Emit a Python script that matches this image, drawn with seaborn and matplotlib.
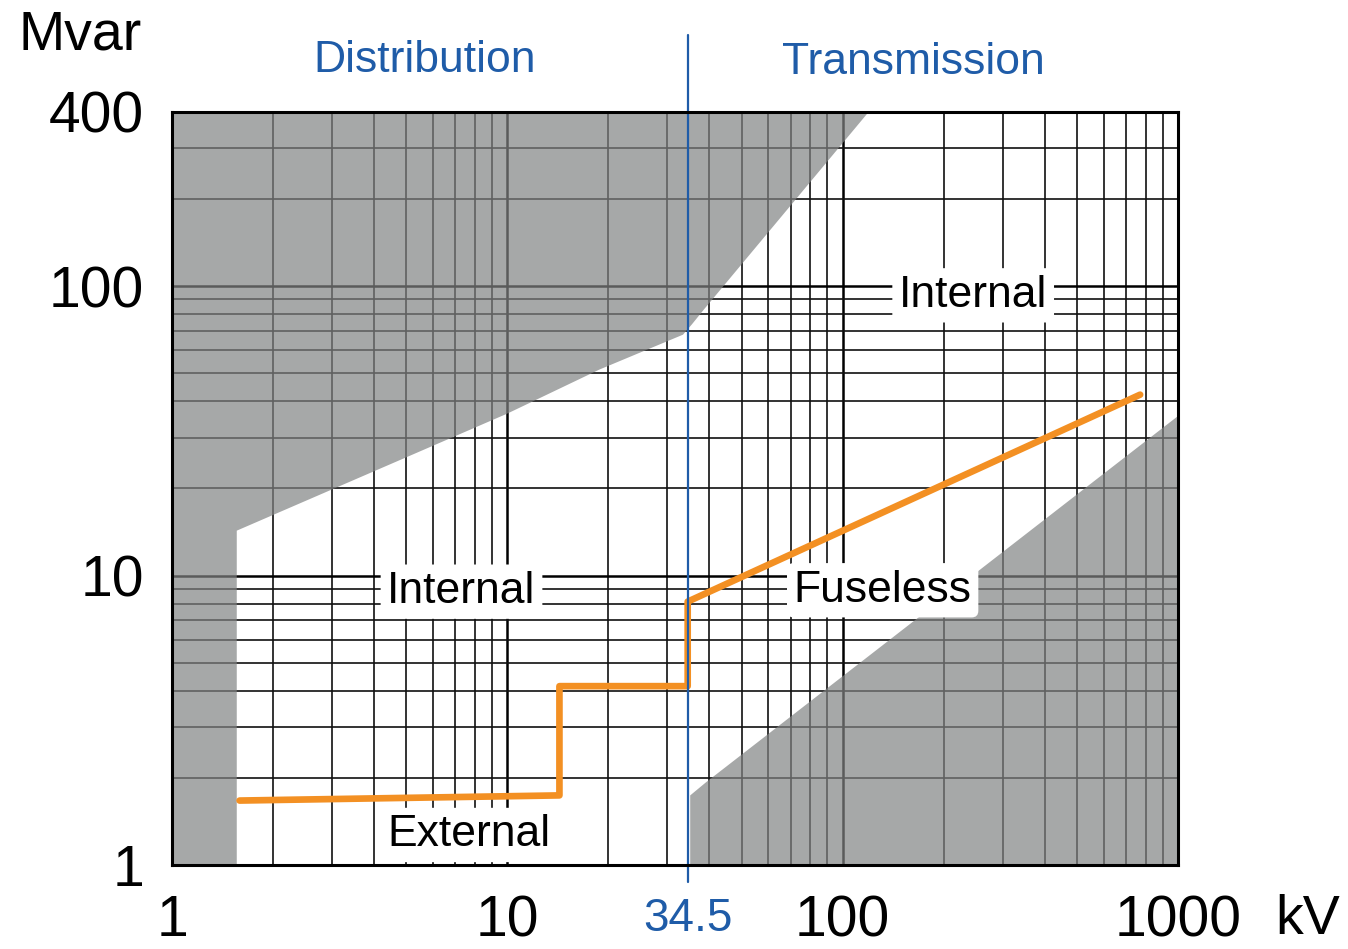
import matplotlib
matplotlib.use("Agg")
import matplotlib.pyplot as plt
import matplotlib.transforms as mtransforms
from matplotlib.ticker import LogLocator, NullFormatter, FixedLocator
import numpy as np
import seaborn as sns

# boundary of the upper-left grey zone (kV, Mvar)
upper_kv = [1, 1.56, 1.56, 10, 18.8, 33.4, 35.5, 38.6, 119.5, 1]
upper_mvar = [1, 1, 14.3, 36.3, 51.5, 68, 73.8, 83.2, 400, 400]

# boundary of the lower-right grey zone
lower_kv = [35.1, 35.1, 39.1, 1000, 1000]
lower_mvar = [1, 1.74, 1.93, 35.6, 1]

# orange limit line
limit_kv = [1.59, 14.3, 14.3, 34.5, 34.5, 771]
limit_mvar = [1.67, 1.74, 4.15, 4.15, 8.13, 42.2]

x_ticks = [1, 10, 100, 1000]
y_ticks = [1, 10, 100, 400]
split_kv = 34.5

region_labels = ["Internal", "Internal", "Fuseless", "External"]
region_kv = [245, 7.3, 131.6, 7.7]
region_mvar = [93, 8.8, 8.9, 1.27]

sns.set_theme(style="white")
plt.rcParams['font.family'] = ['Liberation Sans', 'DejaVu Sans']
plt.rcParams['text.color'] = 'black'

blue = '#1f5ca8'
fig = plt.figure(figsize=(13.48, 9.49), dpi=100)
ax = fig.add_axes([0.1276, 0.0885, 0.7463, 0.7935])

ax.set_xscale('log')
ax.set_yscale('log')
ax.set_xlim(1, 1000)
ax.set_ylim(1, 400)

ax.xaxis.set_major_locator(FixedLocator(x_ticks))
ax.yaxis.set_major_locator(FixedLocator(y_ticks))
ax.xaxis.set_minor_locator(LogLocator(base=10, subs=np.arange(2, 10)))
ax.yaxis.set_minor_locator(LogLocator(base=10, subs=np.arange(2, 10)))
ax.xaxis.set_minor_formatter(NullFormatter())
ax.yaxis.set_minor_formatter(NullFormatter())
ax.set_xticklabels([str(v) for v in x_ticks])
ax.set_yticklabels([str(v) for v in y_ticks])
ax.tick_params(which='both', length=0)
ax.tick_params(axis='x', labelsize=41, pad=21, labelcolor='black')
ax.tick_params(axis='y', labelsize=41, pad=20, labelcolor='black')

ax.grid(which='major', color='black', linewidth=1.8, zorder=1)
ax.grid(which='minor', color='#111111', linewidth=1.2, zorder=1)
ax.set_axisbelow(True)

ax.fill(upper_kv, upper_mvar, color='#818383', alpha=0.7, lw=0, zorder=2)
ax.fill(lower_kv, lower_mvar, color='#818383', alpha=0.7, lw=0, zorder=2)

sns.lineplot(x=limit_kv, y=limit_mvar, ax=ax, color='#f39023', linewidth=4.8,
             sort=False, estimator=None, zorder=4)

ax.axvline(split_kv, ymin=-0.0226, ymax=1.102, color=blue, linewidth=1.6,
           clip_on=False, zorder=5)

for lab, xv, yv in zip(region_labels, region_kv, region_mvar):
    ax.text(xv, yv, lab, fontsize=32, ha='center', va='center', zorder=6,
            color='black',
            bbox=dict(boxstyle='round,pad=0.15', facecolor='white', edgecolor='none'))

for s in ax.spines.values():
    s.set_color('black')
    s.set_linewidth(2.2)
    s.set_zorder(7)

trans = mtransforms.blended_transform_factory(ax.transData, ax.transAxes)
ax.text(split_kv, -0.072, '34.5', transform=trans, fontsize=33, color=blue,
        ha='center', va='center')

fig.text(80 / 1348, 1 - 35 / 949, 'Mvar', fontsize=40, ha='center', va='center')
fig.text(1308 / 1348, 1 - 920 / 949, 'kV', fontsize=40, ha='center', va='center')
fig.text(425 / 1348, 1 - 60 / 949, 'Distribution', fontsize=32, color=blue,
         ha='center', va='center')
fig.text(913 / 1348, 1 - 63 / 949, 'Transmission', fontsize=32, color=blue,
         ha='center', va='center')

fig.savefig('out.png', dpi=100)
